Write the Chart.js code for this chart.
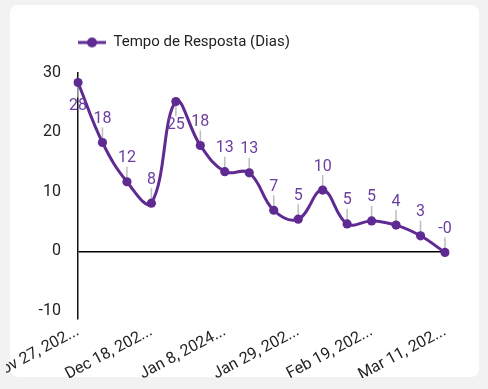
<!DOCTYPE html>
<html>
<head>
<meta charset="utf-8">
<script src="https://cdn.jsdelivr.net/npm/chart.js@4.4.0/dist/chart.umd.min.js"></script>
<style>
  html, body { margin: 0; padding: 0; background: #f2f2f2; width: 488px; height: 389px; overflow: hidden; }
  #card { position: absolute; left: 10px; top: 5px; width: 469px; height: 372px; background: #ffffff; border-radius: 8px; }
  #c { position: absolute; left: 6px; top: 5px; }
</style>
</head>
<body>
<div id="card"></div>
<canvas id="c" width="476" height="373"></canvas>
<script>
const weekLabels = [
  "Nov 27, 2023 - Dec 3, 2023", "Dec 4, 2023 - Dec 10, 2023", "Dec 11, 2023 - Dec 17, 2023",
  "Dec 18, 2023 - Dec 24, 2023", "Dec 25, 2023 - Dec 31, 2023", "Jan 1, 2024 - Jan 7, 2024",
  "Jan 8, 2024 - Jan 14, 2024", "Jan 15, 2024 - Jan 21, 2024", "Jan 22, 2024 - Jan 28, 2024",
  "Jan 29, 2024 - Feb 4, 2024", "Feb 5, 2024 - Feb 11, 2024", "Feb 12, 2024 - Feb 18, 2024",
  "Feb 19, 2024 - Feb 25, 2024", "Feb 26, 2024 - Mar 3, 2024", "Mar 4, 2024 - Mar 10, 2024",
  "Mar 11, 2024 - Mar 17, 2024"
];
const responseDays = [28.4, 18.3, 11.7, 8.1, 25.2, 17.8, 13.4, 13.2, 6.9, 5.4, 10.3, 4.6, 5.1, 4.4, 2.6, -0.2];
const seriesName = "Tempo de Resposta (Dias)";
const yTickStep = 10;
const yMin = -11.4;
const yMax = 30;

const PURPLE = '#5f2a92';
const LABEL_PURPLE = '#6b3fa0';

Chart.defaults.font.family = 'Roboto';

// legend marker: line with a dot
const legendMarker = document.createElement('canvas');
legendMarker.width = 28; legendMarker.height = 12;
(function () {
  const g = legendMarker.getContext('2d');
  g.strokeStyle = PURPLE; g.lineWidth = 3;
  g.beginPath(); g.moveTo(0, 6); g.lineTo(28, 6); g.stroke();
  g.fillStyle = PURPLE;
  g.beginPath(); g.arc(14, 6, 5, 0, Math.PI * 2); g.fill();
})();

const legendGap = {
  id: 'legendGap',
  afterInit(chart) {
    const lg = chart.legend;
    if (!lg) return;
    const orig = lg.fit;
    lg.fit = function () { orig.call(this); this.height += 13; };
  }
};

const valueLabels = {
  id: 'valueLabels',
  beforeDatasetsDraw(chart) {
    const ctx = chart.ctx;
    const meta = chart.getDatasetMeta(0);
    const top = chart.chartArea.top;
    ctx.save();
    ctx.strokeStyle = '#bdbdbd';
    ctx.lineWidth = 1.5;
    meta.data.forEach((pt) => {
      const below = pt.y - 32 < top;
      const dir = below ? 1 : -1;
      ctx.beginPath();
      ctx.moveTo(pt.x, pt.y);
      ctx.lineTo(pt.x, pt.y + dir * 15);
      ctx.stroke();
    });
    ctx.restore();
  },
  afterDatasetsDraw(chart) {
    const ctx = chart.ctx;
    const meta = chart.getDatasetMeta(0);
    const data = chart.data.datasets[0].data;
    const top = chart.chartArea.top;
    ctx.save();
    ctx.fillStyle = LABEL_PURPLE;
    ctx.font = '16px Roboto';
    ctx.textAlign = 'center';
    ctx.textBaseline = 'middle';
    meta.data.forEach((pt, i) => {
      const below = pt.y - 32 < top;
      const dir = below ? 1 : -1;
      ctx.fillText(Number(data[i]).toFixed(0), pt.x, pt.y + dir * 23.5);
    });
    ctx.restore();
  }
};

new Chart(document.getElementById('c'), {
  type: 'line',
  data: {
    labels: weekLabels,
    datasets: [{
      label: seriesName,
      data: responseDays,
      borderColor: PURPLE,
      backgroundColor: PURPLE,
      borderWidth: 3,
      tension: 0.4,
      pointRadius: 4.6,
      pointBorderWidth: 0,
      pointBackgroundColor: PURPLE,
      fill: false
    }]
  },
  options: {
    responsive: false,
    animation: false,
    devicePixelRatio: 1,
    layout: { padding: { top: 30, right: 37, bottom: 0, left: 0 } },
    plugins: {
      legend: {
        display: true,
        position: 'top',
        align: 'start',
        fullSize: false,
        labels: {
          usePointStyle: true,
          pointStyle: legendMarker,
          pointStyleWidth: 28,
          padding: 0,
          color: '#222222',
          font: { size: 15, family: 'Roboto' }
        }
      },
      tooltip: { enabled: false }
    },
    scales: {
      x: {
        grid: { display: false, drawTicks: false },
        border: { display: false },
        ticks: {
          color: '#222222',
          font: { size: 16, family: 'Roboto' },
          minRotation: 28,
          maxRotation: 28,
          autoSkip: true,
          maxTicksLimit: 6,
          padding: 3,
          callback: function (val) {
            const s = this.getLabelForValue(val);
            return s.length > 11 ? s.slice(0, 11) + '...' : s;
          }
        },
        afterFit(scale) {
          scale.paddingLeft = 0;
          scale.paddingRight = 0;
          scale.height = 59;
        }
      },
      y: {
        min: yMin,
        max: yMax,
        grid: {
          drawTicks: false,
          lineWidth: 1.5,
          color: (c) => (c.tick && c.tick.value === 0 ? '#000000' : 'rgba(0,0,0,0)')
        },
        border: { display: true, color: '#111111', width: 1.5 },
        ticks: {
          stepSize: yTickStep,
          includeBounds: false,
          color: '#222222',
          font: { size: 16, family: 'Roboto' },
          padding: 17
        },
        afterFit(scale) { scale.width = 72; }
      }
    }
  },
  plugins: [legendGap, valueLabels]
});
</script>
</body>
</html>
